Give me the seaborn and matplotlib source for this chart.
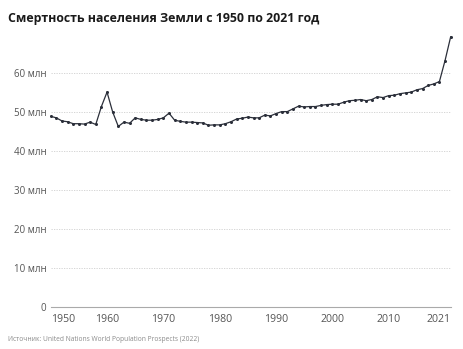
import matplotlib
matplotlib.use("Agg")
import matplotlib.pyplot as plt
import seaborn as sns
import pandas as pd

years = list(range(1950, 2022))
deaths_mln = [
    48.9, 48.5, 47.7, 47.5, 47.0, 47.0, 46.9, 47.4, 46.8,
    51.4, 55.1, 50.0, 46.3,
    47.4, 47.1,
    48.5, 48.1, 47.9, 47.9, 48.1, 48.5,
    49.7,
    47.9, 47.6, 47.4, 47.4, 47.3, 47.2, 46.6, 46.7, 46.7, 47.0,
    47.5, 48.2, 48.4, 48.7, 48.5, 48.5, 49.2, 49.0,
    49.6, 50.1, 50.1, 50.8, 51.5, 51.3, 51.4, 51.4, 51.7, 51.9,
    52.0, 52.0, 52.5, 52.9, 53.0, 53.2, 52.9, 53.2, 53.9, 53.7,
    54.2, 54.3, 54.7, 54.9, 55.1, 55.7, 56.0, 56.8, 57.2, 57.8,
    63.2, 69.3,
]
ytick_values = [0, 10, 20, 30, 40, 50, 60]
ytick_labels = ["0", "10 млн", "20 млн", "30 млн", "40 млн", "50 млн", "60 млн"]
xtick_values = [1950, 1960, 1970, 1980, 1990, 2000, 2010, 2021]
title = "Смертность населения Земли с 1950 по 2021 год"
source = "Источник: United Nations World Population Prospects (2022)"

sns.set_theme(style="white")
plt.rcParams["font.family"] = ["Open Sans", "DejaVu Sans"]

df = pd.DataFrame({"year": years, "deaths": deaths_mln})

fig = plt.figure(figsize=(4.63, 3.49), dpi=100)
ax = fig.add_axes([0.1095, 0.1203, 0.8639, 0.7823])

sns.lineplot(data=df, x="year", y="deaths", ax=ax, color="#2b2f3a",
             linewidth=0.9, marker="o", markersize=2.2, markeredgewidth=0,
             clip_on=False)

ax.set_xlim(1950, 2021)
ax.set_ylim(0, 70)
ax.set_xlabel("")
ax.set_ylabel("")

ax.set_yticks(ytick_values)
ax.set_yticklabels(ytick_labels, fontsize=7, color="#555555")
ax.tick_params(axis="y", length=0, pad=3)
for v in ytick_values[1:]:
    ax.axhline(v, color="#cfcfcf", linewidth=0.6, linestyle=(0, (1.5, 1.5)), zorder=0)

ax.set_xticks(xtick_values)
ax.set_xticklabels([str(v) for v in xtick_values], fontsize=7.6, color="#555555")
ax.tick_params(axis="x", length=3, width=0.6, color="#aaaaaa", pad=2, direction="out")
labels = ax.get_xticklabels()
for i, lab in enumerate(labels):
    if i == len(labels) - 1:
        lab.set_horizontalalignment("right")
    elif i == 0:
        lab.set_horizontalalignment("left")
    else:
        lab.set_horizontalalignment("center")

for s in ["top", "right", "left"]:
    ax.spines[s].set_visible(False)
ax.spines["bottom"].set_color("#aaaaaa")
ax.spines["bottom"].set_linewidth(0.8)

fig.text(0.017, 0.948, title, fontsize=8.9, fontweight="bold", color="#1a1a1a",
         ha="left", va="center")
fig.text(0.017, 0.027, source, fontsize=4.75, color="#8a8a8a", ha="left", va="center")

fig.savefig("out.png", dpi=100, facecolor="white")
